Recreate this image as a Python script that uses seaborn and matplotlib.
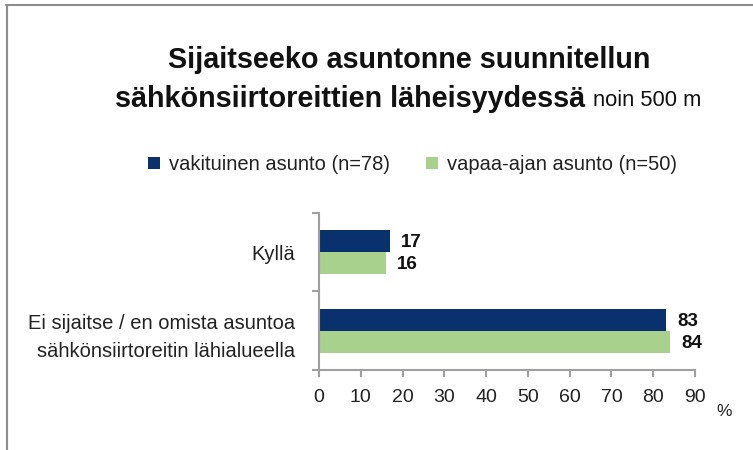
import matplotlib
matplotlib.use("Agg")
import matplotlib.pyplot as plt
import seaborn as sns
import pandas as pd
from matplotlib.lines import Line2D
from matplotlib.patches import Patch
from matplotlib.ticker import FixedLocator

categories = ["Kyllä", "Ei sijaitse / en omista asuntoa\nsähkönsiirtoreitin lähialueella"]
series_names = ["vakituinen asunto (n=78)", "vapaa-ajan asunto (n=50)"]
vakituinen = [17, 83]
vapaa_ajan = [16, 84]
x_ticks = [0, 10, 20, 30, 40, 50, 60, 70, 80, 90]
colors = ["#08316E", "#A9D18E"]

df = pd.DataFrame({
    "cat": categories * 2,
    "series": [series_names[0]] * 2 + [series_names[1]] * 2,
    "value": vakituinen + vapaa_ajan,
})

sns.set_theme(style="white")
plt.rcParams["font.family"] = ["Liberation Sans", "DejaVu Sans"]

fig = plt.figure(figsize=(7.53, 4.5), dpi=100)
ax = fig.add_axes([0.4236, 0.178, 0.4994, 0.349])
sns.barplot(data=df, y="cat", x="value", hue="series", order=categories,
            hue_order=series_names, palette=colors, width=0.56, orient="h",
            ax=ax, legend=False, saturation=1, edgecolor="none")

for cont in ax.containers:
    for bar in cont:
        w = bar.get_width()
        ax.annotate(f"{w:.0f}", (w, bar.get_y() + bar.get_height() / 2),
                    xytext=(8, -1), textcoords="offset points", ha="left", va="center",
                    fontsize=13.5, fontweight="bold", color="#111111")

ax.set_xlim(0, 90)
ax.set_ylim(1.5, -0.5)
ax.set_xticks(x_ticks)
ax.set_xlabel("")
ax.set_ylabel("")
for s in ["top", "right"]:
    ax.spines[s].set_visible(False)
for s in ["left", "bottom"]:
    ax.spines[s].set_color("#A0A0A0")
    ax.spines[s].set_linewidth(1.5)
ax.tick_params(axis="x", bottom=True, length=5, width=1.5, color="#A0A0A0",
               labelsize=14, labelcolor="#222222", pad=9, direction="out")
ax.tick_params(axis="y", which="major", left=False, labelsize=14.5, labelcolor="#222222", pad=11)
ax.yaxis.set_minor_locator(FixedLocator([-0.5, 0.5, 1.5]))
ax.tick_params(axis="y", which="minor", left=True, length=5, width=1.5, color="#A0A0A0", direction="out")
for lbl in ax.get_yticklabels():
    lbl.set_horizontalalignment("right")
    lbl.set_multialignment("right")
    lbl.set_linespacing(1.62)

fig.text(0.961, 0.085, "%", fontsize=12.5, color="#222222", ha="center", va="center")

# title, sized to the reference widths
fig.canvas.draw()
W = fig.bbox.width
t1 = fig.text(0.543, 0.867, "Sijaitseeko asuntonne suunnitellun", fontsize=20,
              fontweight="bold", ha="center", va="center", color="#111111")
t2 = fig.text(0.153, 0.781, "sähkönsiirtoreittien läheisyydessä", fontsize=20,
              fontweight="bold", ha="left", va="center", color="#111111")
t3 = fig.text(0.78, 0.776, "noin 500 m", fontsize=14,
              ha="left", va="center", color="#111111")
for t, target in [(t1, 482), (t2, 468), (t3, 109)]:
    fig.canvas.draw()
    w = t.get_window_extent().width
    t.set_fontsize(t.get_fontsize() * target / w)
fig.canvas.draw()
x_end = t2.get_window_extent().x1
t3.set_x((x_end + 8) / W)

handles = [Patch(facecolor=c, edgecolor="none") for c in colors]
fig.legend(handles, series_names, loc="center", bbox_to_anchor=(0.548, 0.634), ncol=2,
           frameon=False, fontsize=14.5, handlelength=0.6, handleheight=0.6,
           columnspacing=1.8, handletextpad=0.45, labelcolor="#222222")

# frame
fig.add_artist(Line2D([0.009, 0.009], [0.0, 0.989], color="#8C8C8C", lw=1.5, transform=fig.transFigure))
fig.add_artist(Line2D([0.008, 1.0], [0.989, 0.989], color="#8C8C8C", lw=1.5, transform=fig.transFigure))

fig.savefig("out.png", dpi=100)
